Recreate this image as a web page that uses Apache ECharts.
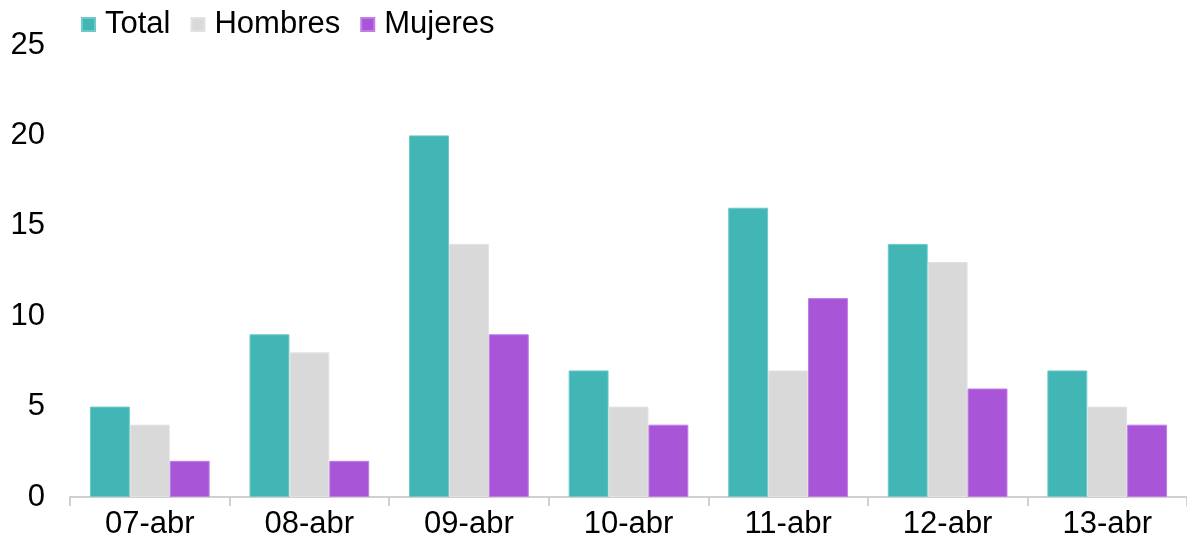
<!DOCTYPE html>
<html>
<head>
<meta charset="utf-8">
<script src="https://cdn.jsdelivr.net/npm/echarts@6/dist/echarts.min.js"></script>
<style>
  html, body { margin: 0; padding: 0; background: #fff; }
  #main { width: 1187px; height: 552px; }
</style>
</head>
<body>
<div id="main"></div>
<script>
var dias = ['07-abr', '08-abr', '09-abr', '10-abr', '11-abr', '12-abr', '13-abr'];
var total = [5, 9, 20, 7, 16, 14, 7];
var hombres = [4, 8, 14, 5, 7, 13, 5];
var mujeres = [2, 2, 9, 4, 11, 6, 4];

var fuente = 'Liberation Sans, Arial, sans-serif';

function serie(nombre, datos, color, borde) {
  return {
    name: nombre,
    type: 'bar',
    data: datos,
    barGap: '0%',
    barCategoryGap: '25%',
    itemStyle: { color: color, borderColor: borde, borderWidth: 1 }
  };
}

var chart = echarts.init(document.getElementById('main'));
chart.setOption({
  animation: false,
  color: ['#41B6B4', '#D9D9D9', '#A855D8'],
  legend: {
    left: 76,
    top: 4,
    itemWidth: 13,
    itemHeight: 13,
    itemGap: 20,
    icon: 'rect',
    textStyle: { fontFamily: fuente, fontSize: 31, color: '#000', padding: [0, 0, 0, 5] },
    data: ['Total', 'Hombres', 'Mujeres']
  },
  grid: { left: 70, right: -3, top: 45, bottom: 55 },
  xAxis: {
    type: 'category',
    data: dias,
    axisLine: { lineStyle: { color: '#D0D0D0', width: 2 } },
    axisTick: { show: true, length: 9, lineStyle: { color: '#D0D0D0', width: 2 } },
    axisLabel: { fontFamily: fuente, fontSize: 31, color: '#000', margin: 12 }
  },
  yAxis: {
    type: 'value',
    min: 0,
    max: 25,
    interval: 5,
    splitLine: { show: false },
    axisLine: { show: false },
    axisTick: { show: false },
    axisLabel: { fontFamily: fuente, fontSize: 31, color: '#000', margin: 25 }
  },
  series: [
    serie('Total', total, '#41B6B4', '#6CCAC8'),
    serie('Hombres', hombres, '#D9D9D9', '#E2E2E2'),
    serie('Mujeres', mujeres, '#A855D8', '#C07EE4')
  ]
});
</script>
</body>
</html>
